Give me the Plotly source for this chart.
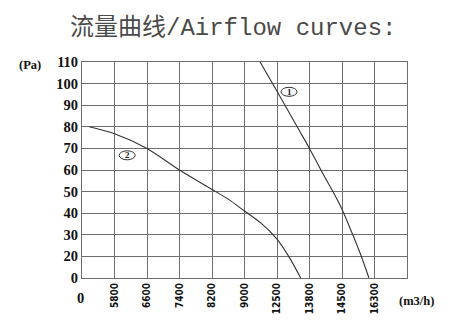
import plotly.graph_objects as go

# Axis categories (index positions 1..9 on the x axis)
x_positions = [1, 2, 3, 4, 5, 6, 7, 8, 9]
x_labels = ["5800", "6600", "7400", "8200", "9000", "12500", "13800", "14500", "16300"]
y_values = [10, 20, 30, 40, 50, 60, 70, 80, 90, 100, 110]
y_labels = ["0", "20", "30", "40", "50", "60", "70", "80", "90", "100", "110"]

# Curve 1 (x in axis index units, pressure in Pa)
c1_x = [5.48, 6.0, 6.62, 7.0, 7.35, 7.72, 8.0, 8.29, 8.57, 8.83]
c1_y = [110, 96.5, 80, 70, 60, 50, 41.8, 31.5, 21, 10]

# Curve 2
c2_x = [0.22, 1.0, 2.0, 3.0, 4.0, 4.5, 5.0, 5.5, 6.0, 6.36, 6.73]
c2_y = [80, 76.8, 70, 60, 51, 46.5, 41, 35.5, 28, 20, 10]

# Curve label positions
lab_text = ["1", "2"]
lab_x = [6.37, 1.39]
lab_y = [96.2, 66.8]

GRID = "#6e6e6e"
LINE = "#333333"
SERIF = "Liberation Serif"
NARROW = "DejaVu Sans Condensed, Liberation Serif"

fig = go.Figure()
fig.add_trace(go.Scatter(x=c1_x, y=c1_y, mode="lines",
                         line=dict(color=LINE, width=1.1, shape="spline", smoothing=0.8),
                         showlegend=False, hoverinfo="skip"))
fig.add_trace(go.Scatter(x=c2_x, y=c2_y, mode="lines",
                         line=dict(color=LINE, width=1.1, shape="spline", smoothing=0.8),
                         showlegend=False, hoverinfo="skip"))

for t, lx, ly in zip(lab_text, lab_x, lab_y):
    fig.add_shape(type="circle", xref="x", yref="y", xsizemode="pixel", ysizemode="pixel",
                  xanchor=lx, yanchor=ly, x0=-8, x1=8, y0=-4.5, y1=4.5,
                  line=dict(color=LINE, width=1), fillcolor="white", layer="above")
    fig.add_annotation(x=lx, y=ly, text="<b>%s</b>" % t, showarrow=False,
                       xanchor="center", yanchor="middle",
                       font=dict(family=SERIF, size=9, color="#222"))

fig.update_layout(
    width=476, height=320,
    margin=dict(l=82, r=69, t=62, b=42, autoexpand=False),
    paper_bgcolor="white", plot_bgcolor="white",
    title=dict(text="流量曲线/Airflow curves:", x=0.49, xanchor="center",
               y=1 - 27 / 320, yanchor="middle",
               font=dict(family="Liberation Mono, Noto Sans CJK SC", size=24, color="#4a4a4a")),
    xaxis=dict(range=[0, 10], tickmode="array", tickvals=x_positions,
               ticktext=["<b>%s</b>" % s for s in x_labels], automargin=False,
               tickangle=-90, showgrid=True, gridcolor=GRID, gridwidth=1,
               showline=True, linecolor=GRID, linewidth=1, mirror=True, zeroline=False,
               ticks="", tickfont=dict(family=NARROW, size=10, color="#111")),
    yaxis=dict(range=[10, 110], tickmode="array", tickvals=y_values,
               ticktext=["<b>%s</b>" % s for s in y_labels], automargin=False,
               showgrid=True, gridcolor=GRID, gridwidth=1,
               showline=True, linecolor=GRID, linewidth=1, mirror=True, zeroline=False,
               ticks="", tickfont=dict(family=SERIF, size=14.5, color="#111")),
)

fig.add_annotation(xref="paper", yref="paper", x=-0.16, y=0.986, text="<b>(Pa)</b>",
                   xanchor="center", yanchor="middle",
                   showarrow=False, font=dict(family=SERIF, size=12.5, color="#111"))
fig.add_annotation(xref="paper", yref="paper", x=1.029, y=-0.106, text="<b>(m3/h)</b>",
                   xanchor="center", yanchor="middle",
                   showarrow=False, font=dict(family=SERIF, size=12.5, color="#111"))
fig.add_annotation(xref="paper", yref="paper", x=-0.006, y=-0.093, text="<b>0</b>",
                   xanchor="center", yanchor="middle",
                   showarrow=False, font=dict(family=SERIF, size=14.5, color="#111"))

fig.write_html("out.html")
